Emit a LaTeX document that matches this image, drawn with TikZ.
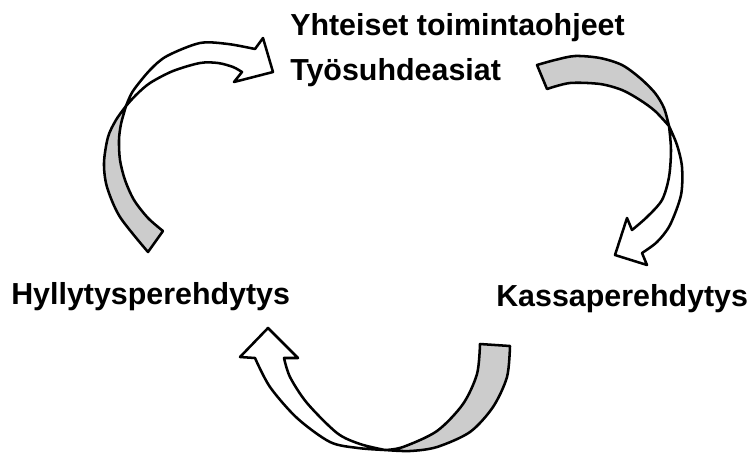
\documentclass[tikz,border=0pt]{standalone}
\usepackage{fontspec}
\setmainfont{Liberation Sans}
\definecolor{backside}{RGB}{204,204,204}
\begin{document}
\begin{tikzpicture}[x=0.75pt,y=-0.75pt,
  band/.style={draw=black,line width=1.9pt,line join=round},
  backband/.style={band,fill=backside},
  frontband/.style={band,fill=white},
  lbl/.style={inner sep=0pt,anchor=base west,font=\fontsize{22.8}{27}\selectfont\bfseries}]
\useasboundingbox (0,0) rectangle (753,454);

% labels
\node[lbl] (yhteiset) at (290,35) {Yhteiset toimintaohjeet};
\node[lbl] (tyosuhde) at (290,80) {Työsuhdeasiat};
\node[lbl] (hyllytys) at (11,304) {Hyllytysperehdytys};
\node[lbl] (kassa) at (496,306) {Kassaperehdytys};

% left curved arrow: shaded back strip, then white front with head
\path[backband] (148,252) -- (163,231)
  -- plot[smooth] coordinates {(163,231) (148,218) (134,200) (125,180) (120,160) (119,140) (121,124) (126,106)}
  -- plot[smooth] coordinates {(126,106) (116,120) (108,137) (104,163) (107,187) (120,217) (148,252)}
  -- cycle;
\path[frontband] (126,106)
  -- plot[smooth] coordinates {(126,106) (133,91) (150,70) (167,56) (200,43) (228,44) (255,49)}
  -- (263,38) -- (273,72) -- (234,82) -- (242,72)
  -- plot[smooth] coordinates {(242,72) (233,67) (218,63) (200,63) (173,71) (150,83) (136,95) (126,106)}
  -- cycle;

% right curved arrow
\path[backband] (537,65) -- (547,89)
  -- plot[smooth] coordinates {(547,89) (570,83) (600,84) (622,90) (640,100) (655,111) (669,126)}
  -- plot[smooth] coordinates {(669,126) (664,108) (655,93) (640,78) (622,65) (600,58) (575,56) (555,60) (537,65)}
  -- cycle;
\path[frontband] (669,126)
  -- plot[smooth] coordinates {(669,126) (677,145) (682,167) (681,195) (670,225) (657,242) (642,253)}
  -- (647,265) -- (615,255) -- (627,218) -- (632,230)
  -- plot[smooth] coordinates {(632,230) (647,217) (662,200) (669,177) (671,150) (669,126)}
  -- cycle;

% bottom curved arrow
\path[backband] (480,344) -- (510,346)
  -- plot[smooth] coordinates {(510,346) (507,377) (493,407) (470,432) (437,447) (410,451) (385,450)}
  -- plot[smooth] coordinates {(385,450) (403,447) (437,431) (463,404) (477,374) (480,344)}
  -- cycle;
\path[frontband] (385,450)
  -- plot[smooth] coordinates {(385,450) (358,448) (330,442) (297,418) (270,387) (255,358)}
  -- (240,357) -- (268,328) -- (298,358) -- (284,358)
  -- plot[smooth] coordinates {(284,358) (290,377) (307,403) (337,433) (360,444) (385,450)}
  -- cycle;
\end{tikzpicture}
\end{document}
